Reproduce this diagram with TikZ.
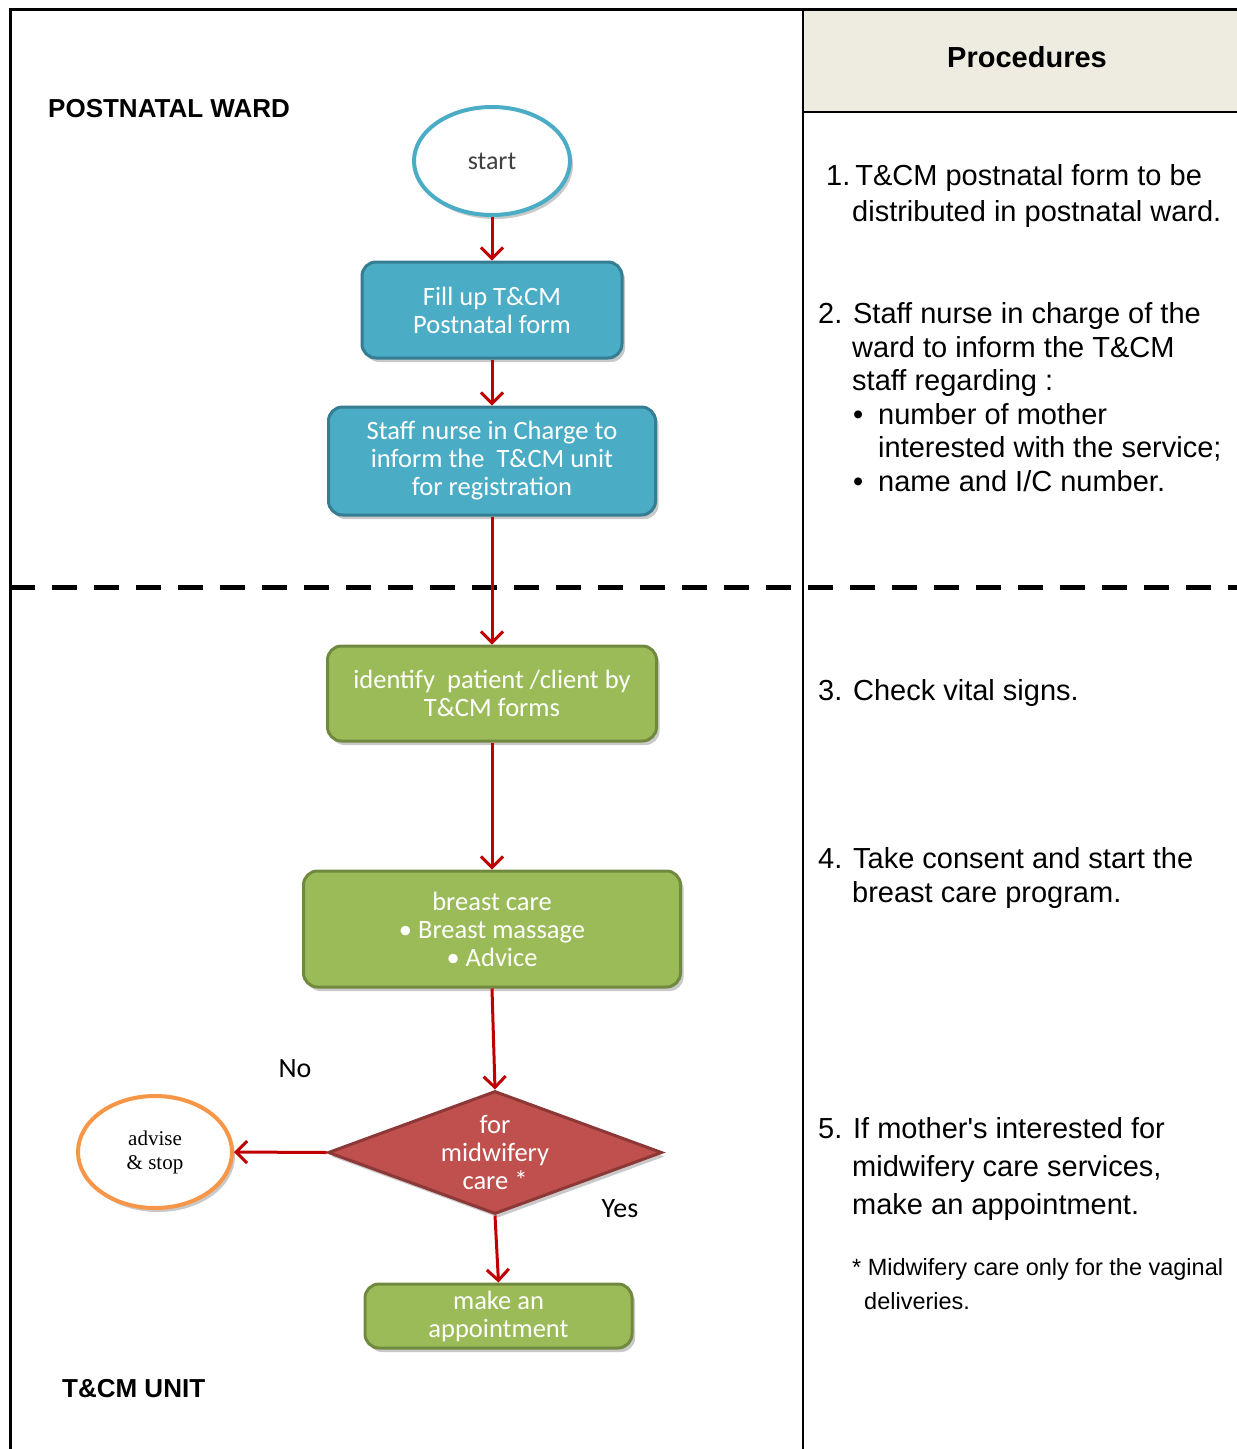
\documentclass[tikz,border=0pt]{standalone}
\usepackage{fontspec}
\setmainfont{Liberation Sans}
\newfontfamily\calib{Carlito}
\newfontfamily\serf{Liberation Serif}
\usetikzlibrary{shapes.geometric,arrows.meta,shadows}
\definecolor{blu}{HTML}{4BACC6}
\definecolor{bluD}{HTML}{357D91}
\definecolor{grn}{HTML}{9BBB59}
\definecolor{grnD}{HTML}{71893F}
\definecolor{redF}{HTML}{C0504D}
\definecolor{redD}{HTML}{8C3836}
\definecolor{orng}{HTML}{F79646}
\definecolor{arr}{HTML}{C00000}
\definecolor{hdr}{HTML}{EEECE1}
\definecolor{stg}{HTML}{404040}
\tikzset{
  shad/.style={drop shadow={shadow xshift=3pt, shadow yshift=-4pt, opacity=0.3, fill=black!70}},
  box/.style={rectangle, rounded corners=14pt, line width=3pt, align=center, text=white,
    font=\calib\fontsize{26.5}{28}\selectfont, inner sep=0pt, shad},
  bluebox/.style={box, fill=blu, draw=bluD},
  greenbox/.style={box, fill=grn, draw=grnD},
  flow/.style={draw=arr, line width=3pt, -{Straight Barb[length=11pt,width=22pt]}},
  rtext/.style={anchor=base west, inner sep=0pt, font=\fontsize{29}{34}\selectfont},
  ftext/.style={anchor=base west, inner sep=0pt, font=\fontsize{23.5}{28}\selectfont},
  htext/.style={anchor=base west, inner sep=0pt, font=\bfseries\fontsize{26}{30}\selectfont},
  lbl/.style={inner sep=0pt, font=\calib\fontsize{28}{30}\selectfont},
}
\begin{document}
\begin{tikzpicture}[x=1pt,y=-1pt]
\useasboundingbox (0,0) rectangle (1237,1449);
% frame
\fill[hdr] (803,9.5) rectangle (1237,112);
\draw[line width=3pt] (10,1449) -- (10,9.5) -- (1237,9.5);
\draw[line width=2pt] (803,9.5) -- (803,1449);
\draw[line width=2.5pt] (803,112) -- (1237,112);
\draw[line width=5pt, dash pattern=on 25pt off 17pt] (10,587) -- (1237,587);

% left headings
\node[htext] (ward) at (48,117) {POSTNATAL WARD};
\node[htext] (unit) at (62,1397) {T\&CM UNIT};

% flow nodes
\node[ellipse, draw=blu, line width=4pt, fill=white, minimum width=156pt, minimum height=108pt,
  text=stg, font=\calib\fontsize{26}{28}\selectfont, shad] (start) at (492,161) {start};
\node[bluebox, minimum width=260pt, minimum height=96pt] (fill) at (492,310) {Fill up T\&CM\\Postnatal form};
\node[bluebox, minimum width=327pt, minimum height=108pt] (staff) at (492,461) {Staff nurse in Charge to\\inform the\ \ T\&CM unit\\for registration};
\node[greenbox, minimum width=329pt, minimum height=95pt] (ident) at (492,693.5) {identify\ \ patient /client by\\T\&CM forms};
\node[greenbox, minimum width=377pt, minimum height=116pt] (breast) at (492,929) {breast care\\\textbullet\ Breast massage\\\textbullet\ Advice};
\node[diamond, fill=redF, draw=redD, line width=3pt, minimum width=334pt, minimum height=123pt,
  inner sep=0pt, shad] (dia) at (495,1152.5) {};
\node[align=center, text=white, inner sep=0pt, font=\calib\fontsize{26.5}{28}\selectfont] (diatext) at (dia.center) {for\\midwifery\\care *};
\node[greenbox, minimum width=267pt, minimum height=64pt] (make) at (498.5,1316) {make an\\appointment};
\node[ellipse, draw=orng, line width=4pt, fill=white, minimum width=154pt, minimum height=112pt,
  align=center, font=\serf\fontsize{21}{24}\selectfont, shad] (adv) at (155,1152) {advise\\\& stop};
\node[lbl] (no) at (295,1069) {No};
\node[lbl] (yes) at (620,1209) {Yes};

% connectors
\draw[flow] (start.south) -- (fill.north);
\draw[flow] (fill.south) -- (staff.north);
\draw[flow] (staff.south) -- (ident.north);
\draw[flow] (ident.south) -- (breast.north);
\draw[flow] (breast.south) -- (dia.north);
\draw[flow] (dia.south) -- (make.north);
\draw[flow] (dia.west) -- (adv.east);

% procedures column
\node[inner sep=0pt, anchor=base, font=\bfseries\fontsize{29}{34}\selectfont] (proc) at (1027,67) {Procedures};
\node[rtext] (p1a) at (826,185) {1.\hspace{5pt}T\&CM postnatal form to be};
\node[rtext] (p1b) at (852,221) {distributed in postnatal ward.};
\node[rtext] (p2a) at (818,323.5) {2. Staff nurse in charge of the};
\node[rtext] (p2b) at (852,357) {ward to inform the T\&CM};
\node[rtext] (p2c) at (852,390.5) {staff regarding :};
\node[rtext] (p2d) at (853,424) {\textbullet};
\node[rtext] (p2e) at (878,424) {number of mother};
\node[rtext] (p2f) at (878,457.5) {interested with the service;};
\node[rtext] (p2g) at (853,491) {\textbullet};
\node[rtext] (p2h) at (878,491) {name and I/C number.};
\node[rtext] (p3a) at (818,700) {3. Check vital signs.};
\node[rtext] (p4a) at (818,868) {4. Take consent and start the};
\node[rtext] (p4b) at (852,902) {breast care program.};
\node[rtext] (p5a) at (818,1138) {5. If mother\textquotesingle s interested for};
\node[rtext] (p5b) at (852,1176) {midwifery care services,};
\node[rtext] (p5c) at (852,1214) {make an appointment.};
\node[ftext] (fn1) at (852,1275) {* Midwifery care only for the vaginal};
\node[ftext] (fn2) at (864,1309) {deliveries.};
\end{tikzpicture}
\end{document}
